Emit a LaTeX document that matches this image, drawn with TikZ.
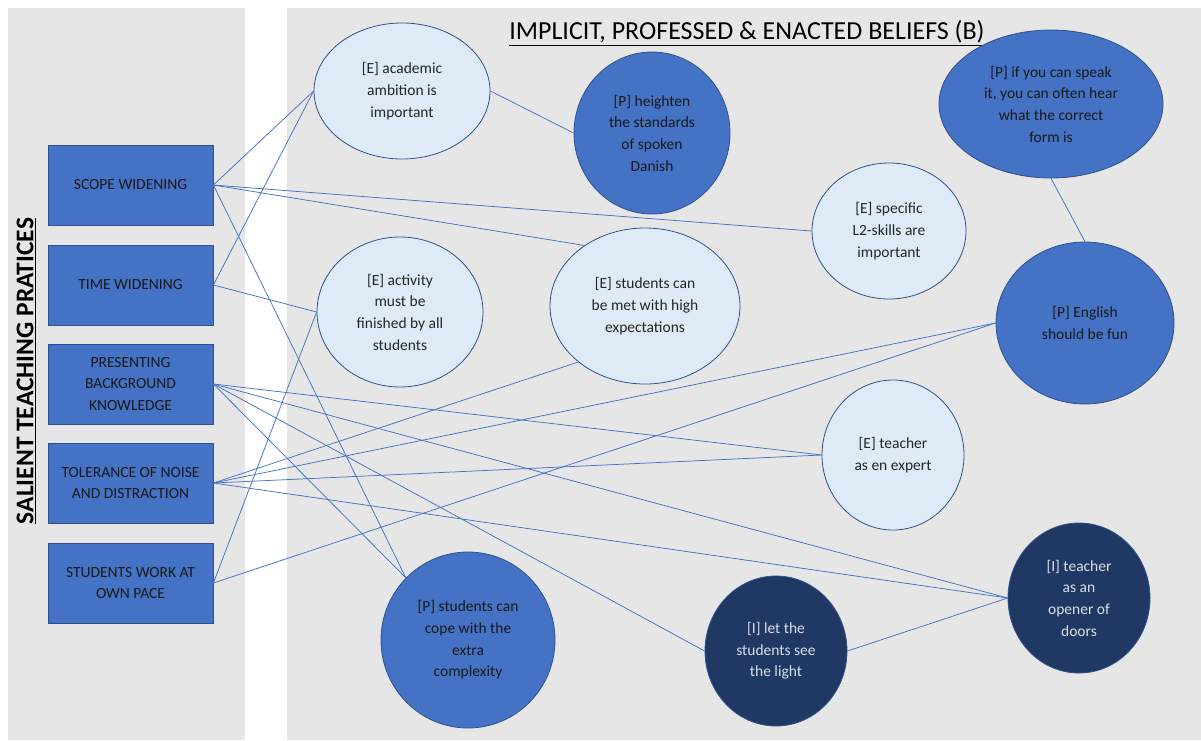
\documentclass[tikz,border=0pt]{standalone}
\usepackage{fontspec}
\setmainfont{Carlito}
\usepackage{tikz}
\usetikzlibrary{shapes.geometric}

\definecolor{panelgray}{RGB}{231,230,230}
\definecolor{paleblue}{RGB}{222,235,247}
\definecolor{midblue}{RGB}{68,114,196}
\definecolor{navyblue}{RGB}{32,56,100}
\definecolor{edgeblue}{RGB}{47,82,143}
\definecolor{lighttext}{RGB}{218,223,232}

\begin{document}
\begin{tikzpicture}[x = 1pt, y = -1pt,
                    practice/.style = {rectangle, draw = edgeblue, line width = 0.8pt, fill = midblue,
                                       minimum width = 165pt, minimum height = 80pt, inner sep = 0pt,
                                       align = center, text = black!90,
                                       font = \fontsize{15.5}{21.7}\selectfont},
                    belief/.style = {ellipse, draw = edgeblue, line width = 0.8pt, inner sep = 0pt,
                                     align = center, font = \fontsize{15.5}{21.7}\selectfont},
                    enacted/.style = {belief, fill = paleblue, text = black!85},
                    professed/.style = {belief, fill = midblue, text = black!90},
                    implicit/.style = {belief, fill = navyblue, text = lighttext},
                    link/.style = {draw = midblue, line width = 0.75pt}]
      \useasboundingbox (0, 0) rectangle (1201, 740);
      \fill [panelgray] (8, 8) rectangle (245, 740);
      \fill [panelgray] (287, 8) rectangle (1201, 740);

      % headings
      \node (beliefs) at (747, 33) {\fontsize{26}{30}\selectfont\underline{IMPLICIT, PROFESSED \& ENACTED BELIEFS (B)}};
      \node [rotate = 90] (salient) at (26, 371) {\fontsize{25.5}{28}\selectfont\bfseries\underline{SALIENT TEACHING PRATICES}};

      % practices
      \node [practice] (scope) at (130.5, 185){SCOPE WIDENING};
      \node [practice] (time) at (130.5, 285){TIME WIDENING};
      \node [practice] (present) at (130.5, 384){PRESENTING\\BACKGROUND\\KNOWLEDGE};
      \node [practice] (noise) at (130.5, 483){TOLERANCE OF NOISE\\AND DISTRACTION};
      \node [practice] (pace) at (130.5, 583){STUDENTS WORK AT\\OWN PACE};

      % beliefs
      \node [enacted, minimum width = 176pt, minimum height = 136pt] (ambition) at (402, 91){[E] academic\\ambition is\\important};
      \node [professed, minimum width = 156pt, minimum height = 162pt] (standards) at (652, 133){[P] heighten\\the standards\\of spoken\\Danish};
      \node [professed, minimum width = 224pt, minimum height = 148pt] (speak) at (1051, 104){[P] if you can speak\\it, you can often hear\\what the correct\\form is};
      \node [enacted, minimum width = 154pt, minimum height = 136pt] (skills) at (889, 231){[E] specific\\L2-skills are\\important};
      \node [professed, minimum width = 178pt, minimum height = 162pt] (fun) at (1085, 323){[P] English\\should be fun};
      \node [enacted, minimum width = 166pt, minimum height = 150pt] (finished) at (400, 312){[E] activity\\must be\\finished by all\\students};
      \node [enacted, minimum width = 190pt, minimum height = 156pt] (expect) at (645, 306){[E] students can\\be met with high\\expectations};
      \node [enacted, minimum width = 142pt, minimum height = 150pt] (expert) at (893, 455){[E] teacher\\as en expert};
      \node [implicit, minimum width = 142pt, minimum height = 150pt] (doors) at (1079, 598){[I] teacher\\as an\\opener of\\doors};
      \node [implicit, minimum width = 142pt, minimum height = 150pt] (light) at (776, 651){[I] let the\\students see\\the light};
      \node [professed, minimum width = 174pt, minimum height = 176pt] (cope) at (468, 640){[P] students can\\cope with the\\extra\\complexity};

      \draw [link] (scope.east) -- (ambition.west);
      \draw [link] (scope.east) -- (skills.west);
      \draw [link] (scope.east) -- (expect.135);
      \draw [link] (scope.east) -- (cope.135);
      \draw [link] (time.east) -- (ambition.west);
      \draw [link] (time.east) -- (finished.west);
      \draw [link] (present.east) -- (cope.135);
      \draw [link] (present.east) -- (expert.west);
      \draw [link] (present.east) -- (doors.west);
      \draw [link] (present.east) -- (light.west);
      \draw [link] (noise.east) -- (expect.220);
      \draw [link] (noise.east) -- (fun.west);
      \draw [link] (noise.east) -- (expert.west);
      \draw [link] (noise.east) -- (doors.west);
      \draw [link] (pace.east) -- (finished.west);
      \draw [link] (pace.east) -- (fun.west);
      \draw [link] (ambition.east) -- (standards.west);
      \draw [link] (speak.south) -- (fun.north);
      \draw [link] (light.east) -- (doors.west);
      \end{tikzpicture}
\end{document}
